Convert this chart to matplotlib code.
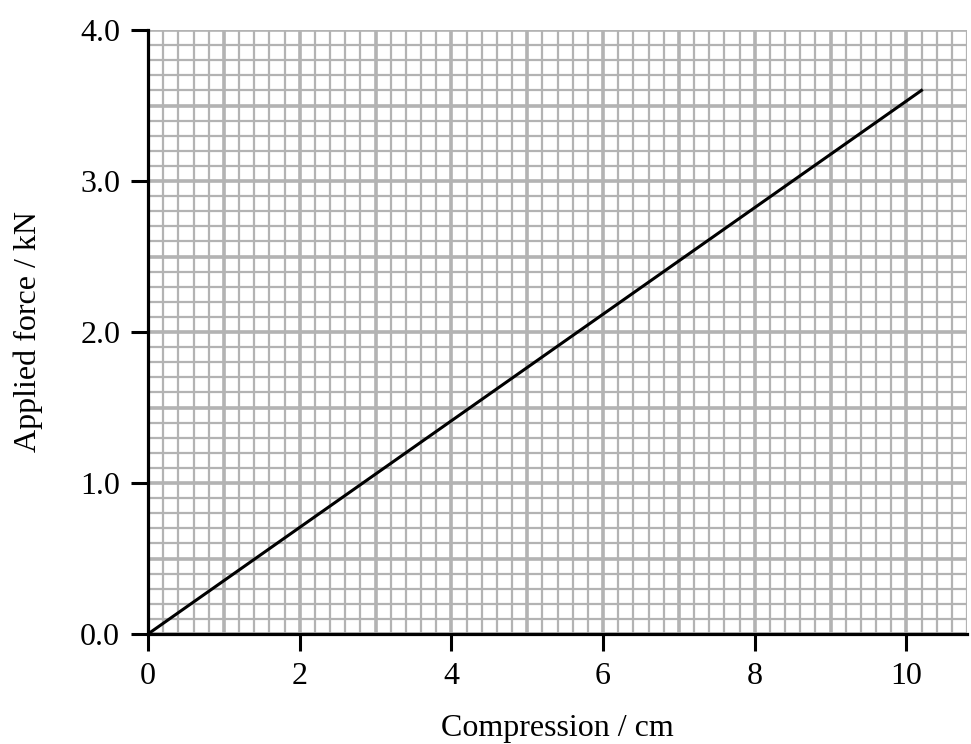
import numpy as np
import matplotlib
matplotlib.use('Agg')
import matplotlib.pyplot as plt

# line data (compression in cm, force in kN)
compression = [0.0, 10.2]
force = [0.0, 3.6]

x_ticks = [0, 2, 4, 6, 8, 10]
y_ticks = [0.0, 1.0, 2.0, 3.0, 4.0]
y_tick_labels = ['0.0', '1.0', '2.0', '3.0', '4.0']

plt.rcParams['font.family'] = ['Liberation Serif', 'DejaVu Serif']

fig = plt.figure(figsize=(9.71, 7.44), dpi=100)
ax = fig.add_axes([148 / 971, 1 - 634 / 744, (967 - 148) / 971, (634 - 30) / 744])

ax.set_xlim(0, 10.8)
ax.set_ylim(0, 4.0)

grid_col = '#b3b3b3'
# minor grid
for xv in np.arange(0, 10.81, 0.2):
    ax.axvline(xv, color=grid_col, lw=1.6, zorder=1)
for yv in np.arange(0, 4.001, 0.1):
    ax.axhline(yv, color=grid_col, lw=1.6, zorder=1)
# major grid
for xv in np.arange(0, 10.81, 1.0):
    ax.axvline(xv, color=grid_col, lw=2.6, zorder=1)
for yv in np.arange(0, 4.001, 0.5):
    ax.axhline(yv, color=grid_col, lw=2.6, zorder=1)

ax.plot(compression, force, color='black', lw=2.2, zorder=3)

for s in ['top', 'right']:
    ax.spines[s].set_visible(False)
for s in ['left', 'bottom']:
    ax.spines[s].set_linewidth(2.3)
    ax.spines[s].set_zorder(4)

ax.set_xticks(x_ticks)
ax.set_yticks(y_ticks)
ax.set_yticklabels(y_tick_labels)
ax.tick_params(direction='out', length=12, width=2.2, labelsize=23, pad=8)

ax.set_xlabel('Compression / cm', fontsize=23, labelpad=17)
ax.set_ylabel('Applied force / kN', fontsize=23, labelpad=27)

fig.savefig('out.png', dpi=100)
